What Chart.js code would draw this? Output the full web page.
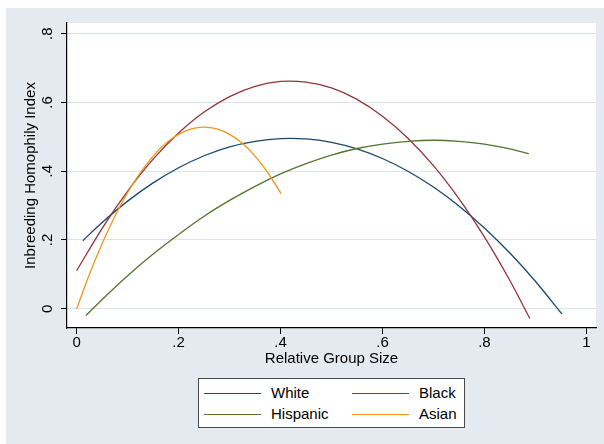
<!DOCTYPE html>
<html>
<head>
<meta charset="utf-8">
<script src="https://cdn.jsdelivr.net/npm/chart.js@4.4.1/dist/chart.umd.min.js"></script>
<style>
html, body { margin: 0; padding: 0; background: #fff; }
#wrap { position: relative; width: 604px; height: 444px; font-family: 'Liberation Sans', Arial, Helvetica, sans-serif; }
#chart { position: absolute; left: 0; top: 0; }
#legend { position: absolute; left: 198px; top: 378px; width: 267px; height: 50px; box-sizing: border-box; background: #fff; border: 1px solid #4a4a4a; }
.item-line { position: absolute; height: 0; width: 57px; border-top: 1.3px solid; }
.item-text { position: absolute; font-size: 15px; line-height: 18px; color: #000; white-space: nowrap; }
</style>
</head>
<body>
<div id="wrap">
  <canvas id="chart" width="604" height="444"></canvas>
  <div id="legend"></div>
</div>
<script>
// valeurs
const seriesNames = ['White', 'Black', 'Hispanic', 'Asian'];
const seriesColors = ['#1a476f', '#90353b', '#55752f', '#f0961a'];

const whiteX = [0.012, 0.05, 0.1, 0.15, 0.2, 0.25, 0.3, 0.35, 0.4, 0.45, 0.5, 0.55, 0.6, 0.65, 0.7, 0.75, 0.8, 0.85, 0.9, 0.952];
const whiteY = [0.198, 0.251, 0.313, 0.366, 0.410, 0.445, 0.471, 0.487, 0.495, 0.494, 0.484, 0.465, 0.437, 0.400, 0.354, 0.299, 0.235, 0.162, 0.080, -0.015];

const blackX = [0, 0.05, 0.1, 0.15, 0.2, 0.25, 0.3, 0.35, 0.4, 0.45, 0.5, 0.55, 0.6, 0.65, 0.7, 0.75, 0.8, 0.85, 0.889];
const blackY = [0.111, 0.234, 0.342, 0.435, 0.511, 0.572, 0.617, 0.647, 0.661, 0.659, 0.642, 0.609, 0.560, 0.496, 0.416, 0.320, 0.209, 0.082, -0.028];

const hispanicX = [0.018, 0.05, 0.1, 0.15, 0.2, 0.25, 0.3, 0.35, 0.4, 0.45, 0.5, 0.55, 0.6, 0.65, 0.7, 0.75, 0.8, 0.85, 0.887];
const hispanicY = [-0.020, 0.027, 0.096, 0.159, 0.216, 0.269, 0.315, 0.356, 0.392, 0.422, 0.447, 0.466, 0.479, 0.487, 0.490, 0.487, 0.479, 0.465, 0.451];

const asianX = [0, 0.025, 0.05, 0.075, 0.1, 0.125, 0.15, 0.175, 0.2, 0.225, 0.25, 0.275, 0.3, 0.325, 0.35, 0.375, 0.401];
const asianY = [0.000, 0.100, 0.190, 0.269, 0.338, 0.396, 0.444, 0.481, 0.507, 0.523, 0.528, 0.523, 0.507, 0.481, 0.444, 0.396, 0.335];

const xTicks = [0, 0.2, 0.4, 0.6, 0.8, 1];
const yTicks = [0, 0.2, 0.4, 0.6, 0.8];
const xTitle = 'Relative Group Size';
const yTitle = 'Inbreeding Homophily Index';

const allX = [whiteX, blackX, hispanicX, asianX];
const allY = [whiteY, blackY, hispanicY, asianY];

// format Stata : 0, .2, .4 ... 1
function fmt(v) {
    if (Math.abs(v) < 1e-9) return '0';
    if (Math.abs(v - 1) < 1e-9) return '1';
    return v.toFixed(1).replace(/^0/, '');
}

// fond gris + zone du graphique en blanc
const backdrop = {
    id: 'backdrop',
    beforeDraw(chart) {
        const { ctx, chartArea: a } = chart;
        ctx.save();
        ctx.fillStyle = '#ffffff';
        ctx.fillRect(0, 0, chart.width, chart.height);
        ctx.fillStyle = '#e5e9f0';
        ctx.fillRect(6, 8, chart.width - 6, chart.height - 8);
        ctx.fillStyle = '#ffffff';
        ctx.fillRect(a.left, a.top, a.right - a.left, a.bottom - a.top);
        ctx.restore();
    }
};

const datasets = seriesNames.map((name, i) => ({
    label: name,
    data: allX[i].map((x, j) => ({ x: x, y: allY[i][j] })),
    borderColor: seriesColors[i],
    borderWidth: 1.3,
    pointRadius: 0,
    showLine: true,
    fill: false,
    tension: 0.3,
    order: seriesNames.length - i
}));

const ctx = document.getElementById('chart').getContext('2d');
new Chart(ctx, {
    type: 'scatter',
    data: { datasets: datasets },
    plugins: [backdrop],
    options: {
        responsive: false,
        animation: false,
        devicePixelRatio: 1,
        layout: { padding: { top: 23, right: 8, left: 0, bottom: 76 } },
        plugins: { legend: { display: false }, tooltip: { enabled: false } },
        scales: {
            x: {
                type: 'linear',
                min: -0.019,
                max: 1.019,
                afterBuildTicks: s => { s.ticks = xTicks.map(v => ({ value: v })); },
                afterFit: s => { s.height = 40; },
                ticks: { callback: fmt, color: '#000', font: { size: 15 }, padding: 0, maxRotation: 0, autoSkip: false },
                grid: { drawOnChartArea: false, tickLength: 6, tickColor: '#000' },
                border: { display: true, color: '#000', width: 1.2 },
                title: { display: true, text: xTitle, color: '#000', font: { size: 15 }, padding: 0 }
            },
            y: {
                type: 'linear',
                min: -0.056,
                max: 0.831,
                afterBuildTicks: s => { s.ticks = yTicks.map(v => ({ value: v })); },
                afterFit: s => { s.width = 67; },
                ticks: { callback: fmt, color: '#000', font: { size: 15 }, padding: 7, minRotation: 90, maxRotation: 90, crossAlign: 'center' },
                grid: { color: '#dde3eb', lineWidth: 1, tickLength: 6, tickColor: '#000' },
                border: { display: true, color: '#000', width: 1.2 },
                title: { display: true, text: yTitle, color: '#000', font: { size: 15 }, padding: { top: 22, bottom: 0 } }
            }
        }
    }
});

// légende en 2 colonnes comme Stata
const legend = document.getElementById('legend');
const colLine = [5, 153];
const colText = [72, 220];
const rowY = [13.6, 34.6];
seriesNames.forEach((name, i) => {
    const col = i % 2, row = Math.floor(i / 2);
    const line = document.createElement('div');
    line.className = 'item-line';
    line.style.left = colLine[col] + 'px';
    line.style.top = rowY[row] + 'px';
    line.style.borderTopColor = seriesColors[i];
    legend.appendChild(line);
    const txt = document.createElement('div');
    txt.className = 'item-text';
    txt.style.left = colText[col] + 'px';
    txt.style.top = (rowY[row] - 9) + 'px';
    txt.textContent = name;
    legend.appendChild(txt);
});
</script>
</body>
</html>
